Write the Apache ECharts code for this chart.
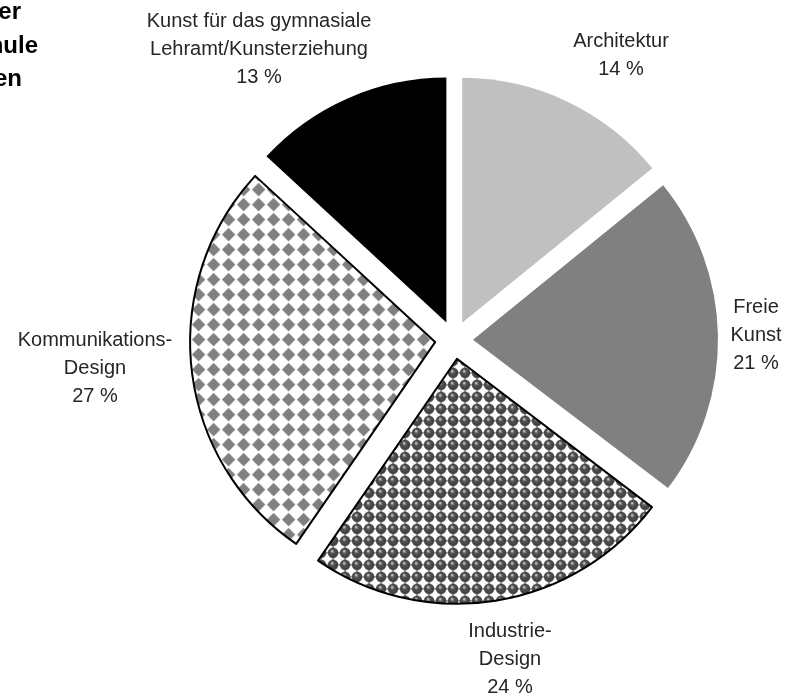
<!DOCTYPE html>
<html>
<head>
<meta charset="utf-8">
<script src="https://cdn.jsdelivr.net/npm/echarts@6/dist/echarts.min.js"></script>
<style>
  html, body { margin: 0; padding: 0; background: #fff; }
  #chart { width: 787px; height: 696px; }
</style>
</head>
<body>
<div id="chart"></div>
<script>
// Studienrichtungen, im Uhrzeigersinn ab 12 Uhr
const names = [
  "Architektur",
  "Freie\nKunst",
  "Industrie-\nDesign",
  "Kommunikations-\nDesign",
  "Kunst für das gymnasiale\nLehramt/Kunsterziehung",
];
const shares = [14, 21, 24, 27, 13];

// title lines (cut off at the left edge in the original)
const titleLines = ["Studierende der", "Kunsthochschule", "nach Studiengängen"];

// label centres (layout only)
const labelPos = [
  [621, 55],
  [756, 335],
  [510, 659],
  [95, 368],
  [259, 49],
];

// diamond pattern
function diamondTile() {
  const c = document.createElement("canvas");
  c.width = 15; c.height = 15;
  const g = c.getContext("2d");
  g.fillStyle = "#fff";
  g.fillRect(0, 0, 15, 15);
  g.fillStyle = "#808080";
  g.beginPath();
  g.moveTo(7.5, 0.8);
  g.lineTo(14.2, 7.5);
  g.lineTo(7.5, 14.2);
  g.lineTo(0.8, 7.5);
  g.closePath();
  g.fill();
  return c;
}

// sphere pattern
function sphereTile() {
  const c = document.createElement("canvas");
  c.width = 12; c.height = 12;
  const g = c.getContext("2d");
  g.fillStyle = "#fff";
  g.fillRect(0, 0, 12, 12);
  g.fillStyle = "#9a9a9a";
  g.fillRect(0, 5, 12, 2);
  g.fillRect(5, 0, 2, 12);
  const grad = g.createRadialGradient(5, 4.2, 0.5, 6, 6, 5.4);
  grad.addColorStop(0, "#c8c8c8");
  grad.addColorStop(0.3, "#555");
  grad.addColorStop(1, "#383838");
  g.fillStyle = grad;
  g.beginPath();
  g.arc(6, 6, 5.2, 0, Math.PI * 2);
  g.fill();
  return c;
}

const fills = [
  { color: "#c0c0c0" },
  { color: "#808080" },
  { color: { image: sphereTile(), repeat: "repeat" }, borderColor: "#000", borderWidth: 2 },
  { color: { image: diamondTile(), repeat: "repeat" }, borderColor: "#000", borderWidth: 2 },
  { color: "#000" },
];

const titleFont = "bold 24px 'Liberation Sans', Arial, sans-serif";
const titleRight = [21, 38, 22];
const titleY = [12, 46, 79];

const labelFont = "20px 'Liberation Sans', Arial, sans-serif";

const graphics = titleLines.map((t, i) => ({
  type: "text",
  x: titleRight[i],
  y: titleY[i],
  style: { text: t, font: titleFont, fill: "#000", align: "right", verticalAlign: "middle" },
})).concat(names.map((n, i) => ({
  type: "text",
  x: labelPos[i][0],
  y: labelPos[i][1],
  style: {
    text: n + "\n" + shares[i] + " %",
    font: labelFont,
    lineHeight: 28,
    fill: "#262626",
    align: "center",
    verticalAlign: "middle",
  },
})));

const chart = echarts.init(document.getElementById("chart"));
chart.setOption({
  animation: false,
  backgroundColor: "#fff",
  graphic: graphics,
  series: [
    {
      type: "pie",
      center: [454, 340],
      radius: 245,
      startAngle: 90,
      clockwise: true,
      selectedMode: "multiple",
      selectedOffset: 19,
      emphasis: { disabled: true },
      label: { show: false },
      labelLine: { show: false },
      data: names.map((n, i) => ({
        name: n,
        value: shares[i],
        selected: true,
        itemStyle: fills[i],
        select: { itemStyle: fills[i] },
      })),
    },
  ],
});
</script>
</body>
</html>
